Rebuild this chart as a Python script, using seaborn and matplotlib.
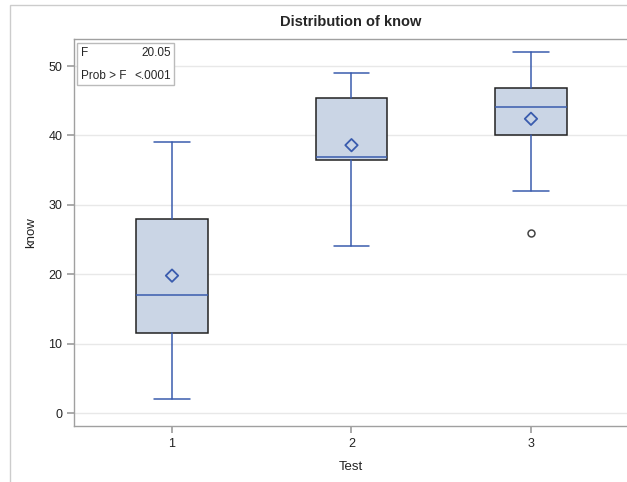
import matplotlib
matplotlib.use("Agg")
import matplotlib.pyplot as plt
from matplotlib.patches import Rectangle
import seaborn as sns
import pandas as pd

# summary statistics
tests = [1, 2, 3]
q1 = [11.6, 36.5, 40.0]
median = [17.0, 36.9, 44.05]
q3 = [28.0, 45.4, 46.9]
whis_lo = [2.0, 24.0, 32.0]
whis_hi = [39.0, 49.0, 52.0]
means = [19.8, 38.6, 42.4]
outliers = [[], [], [26.0]]

sns.set_theme(style="white")
plt.rcParams['font.family'] = ['Liberation Sans', 'DejaVu Sans']

blue = '#3A5CAE'
fig = plt.figure(figsize=(6.27, 4.82), dpi=100)
ax = fig.add_axes([74 / 627, 56 / 482, 1 - 74 / 627, (426 - 39) / 482])

stats = []
for i in range(len(tests)):
    stats.append({'q1': q1[i], 'med': median[i], 'q3': q3[i],
                  'whislo': whis_lo[i], 'whishi': whis_hi[i],
                  'fliers': outliers[i], 'label': str(tests[i])})

ax.bxp(stats, positions=tests, widths=0.4, patch_artist=True, showfliers=True,
       boxprops=dict(facecolor='#CAD5E5', edgecolor='#222222', linewidth=1.1),
       medianprops=dict(color=blue, linewidth=1.1),
       whiskerprops=dict(color=blue, linewidth=1.1),
       capprops=dict(color=blue, linewidth=1.1),
       flierprops=dict(marker='o', markerfacecolor='none', markeredgecolor='#444444',
                       markersize=5, markeredgewidth=1.1),
       capwidths=0.2, zorder=3)

mean_df = pd.DataFrame({'Test': tests, 'mean': means})
sns.scatterplot(data=mean_df, x='Test', y='mean', marker='D', s=40,
                facecolor='none', edgecolor=blue, linewidth=1.3, ax=ax, zorder=4)

ax.set_xlim(0.454, 3.535)
ax.set_ylim(-1.87, 53.9)
ax.set_yticks([0, 10, 20, 30, 40, 50])
ax.set_xticks(tests)
ax.set_xticklabels([str(t) for t in tests])
ax.yaxis.grid(True, color='#E8E8E8', linewidth=1)
ax.set_axisbelow(True)

for side in ['left', 'bottom', 'top']:
    ax.spines[side].set_color('#A0A0A0')
    ax.spines[side].set_linewidth(1)
ax.spines['right'].set_visible(False)
ax.tick_params(axis='both', which='both', length=5, color='#A0A0A0',
               labelsize=9, labelcolor='#222222', left=True, bottom=True)

ax.set_xlabel('Test', fontsize=9.5, color='#222222', labelpad=8)
ax.set_ylabel('know', fontsize=9.5, color='#222222', labelpad=8)
ax.set_title('Distribution of know', fontsize=10.5, fontweight='bold', pad=9)

# inset statistics table
ax.add_patch(Rectangle((0.006, 0.88), 0.175, 0.11, transform=ax.transAxes,
                       facecolor='white', edgecolor='#BBBBBB', linewidth=1, zorder=5))
ax.text(0.012, 0.965, 'F', transform=ax.transAxes, fontsize=8.5, va='center', zorder=6)
ax.text(0.176, 0.965, '20.05', transform=ax.transAxes, fontsize=8.5, va='center', ha='right', zorder=6)
ax.text(0.012, 0.905, 'Prob > F', transform=ax.transAxes, fontsize=8.5, va='center', zorder=6)
ax.text(0.176, 0.905, '<.0001', transform=ax.transAxes, fontsize=8.5, va='center', ha='right', zorder=6)

# outer frame of the output page
fig.add_artist(Rectangle((10 / 627, -0.1), 1.2, 1 - 5 / 482 + 0.1, transform=fig.transFigure,
                         facecolor='none', edgecolor='#CCCCCC', linewidth=1))

fig.savefig('out.png', dpi=100)
